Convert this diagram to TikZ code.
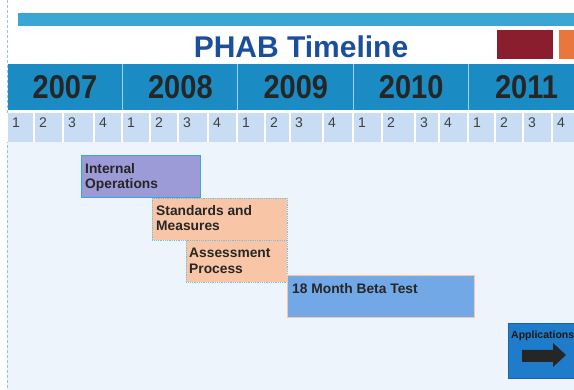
\documentclass[tikz,border=0pt]{standalone}
\usepackage{fontspec}
\setmainfont{Liberation Sans}
\newfontfamily\yearfont[FakeStretch=0.88]{Liberation Sans}

\definecolor{stripe}{HTML}{3BA5D4}
\definecolor{yearbar}{HTML}{1A8CC3}
\definecolor{quarter}{HTML}{C8DDF3}
\definecolor{paper}{HTML}{EDF4FB}
\definecolor{titleblue}{HTML}{1B4F9C}
\definecolor{maroon}{HTML}{8A1E2E}
\definecolor{ember}{HTML}{E9763A}
\definecolor{lavender}{HTML}{9C9AD7}
\definecolor{peach}{HTML}{F8C6A6}
\definecolor{beta}{HTML}{72A8E6}
\definecolor{appblue}{HTML}{1F7CCB}

\tikzset{
  phase/.style={draw,anchor=north west,inner sep=0pt,line width=0.8pt},
  phasetext/.style={anchor=north west,align=left,inner sep=0pt,
    font=\fontsize{13.8}{15.5}\selectfont\bfseries,text=black!85}
}

\begin{document}
\begin{tikzpicture}[x=1pt,y=-1pt]
\useasboundingbox (0,0) rectangle (574,390);
\clip (0,0) rectangle (574,390);
\fill[white] (0,0) rectangle (574,390);
\fill[paper] (7,142) rectangle (574,390);
\draw[stripe!60,densely dashed,line width=0.6pt] (7,0)--(7,390);

% heading
\fill[stripe] (18,13) rectangle (574,26);
\node[font=\fontsize{30}{31}\selectfont\bfseries,text=titleblue] (title) at (301,47) {PHAB Timeline};
\fill[maroon] (497,30) rectangle (553,59);
\fill[ember] (559,30) rectangle (574,59);

% years
\fill[yearbar] (8,64) rectangle (574,110);
\foreach \yr [count=\i from 0] in {2007,...,2011}
  \node[font=\yearfont\fontsize{33}{34}\selectfont\bfseries,text=black!85] (y\yr) at (65+115.4*\i,87.5) {\yr};
\foreach \i in {1,...,4}
  \draw[stripe!50,line width=0.8pt] (7+115.4*\i,64)--(7+115.4*\i,110);

% quarters
\fill[quarter] (8,113) rectangle (574,142);
\foreach \x [count=\i from 0] in {7,34,63,94,122,150,178,208,237,265,290,323,353,382,415,439,468,495,523,552}{
  \pgfmathtruncatemacro\q{mod(\i,4)+1}
  \draw[white,line width=1.2pt] (\x,113)--(\x,142);
  \node[anchor=west,inner sep=0pt,font=\fontsize{14}{15}\selectfont,text=black!75] (q\i) at (\x+5,123) {\q};
}

% phases
\node[phase,fill=lavender,draw=stripe,minimum width=119pt,minimum height=42pt] (intops) at (81,155) {};
\node[phasetext] at ([shift={(4,8)}]intops.north west) {Internal\\Operations};

\node[phase,fill=peach,draw=stripe!70,densely dotted,minimum width=135pt,minimum height=42pt] (standards) at (152,198) {};
\node[phasetext] at ([shift={(4,7)}]standards.north west) {Standards and\\Measures};

\node[phase,fill=peach,draw=stripe!70,densely dotted,minimum width=101pt,minimum height=42pt] (assess) at (186,240) {};
\node[phasetext] at ([shift={(3,8)}]assess.north west) {Assessment\\Process};

\node[phase,fill=beta,draw=peach,minimum width=187pt,minimum height=42pt] (betatest) at (287,275) {};
\node[phasetext] at ([shift={(5,8)}]betatest.north west) {18 Month Beta Test};

\node[phase,fill=appblue,draw=appblue!80!black,minimum width=80pt,minimum height=55pt] (apps) at (508,323) {};
\node[anchor=north west,inner sep=0pt,font=\fontsize{10.5}{12}\selectfont\bfseries,text=black!90] (appstext) at ([shift={(3,8)}]apps.north west) {Applications};
\fill[black!85] (522,350)--(553,350)--(553,343)--(566,355)--(553,367)--(553,362)--(522,362)--cycle;
\end{tikzpicture}
\end{document}
